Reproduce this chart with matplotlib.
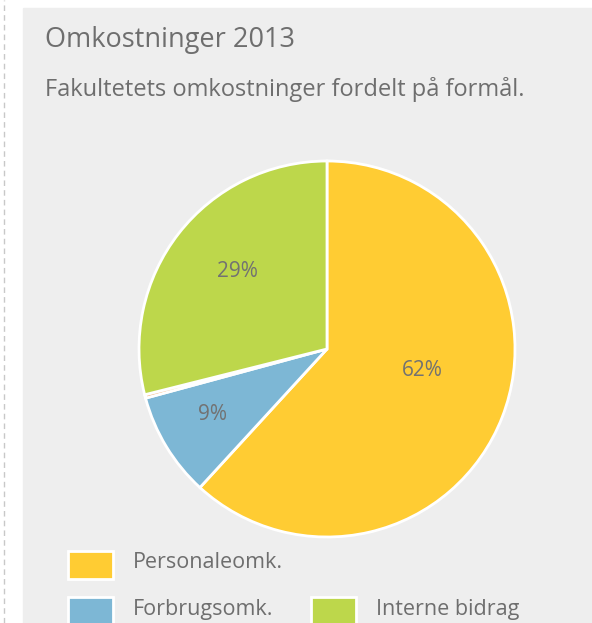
import matplotlib.pyplot as plt
import numpy as np
from matplotlib.patches import Rectangle
from matplotlib.lines import Line2D

plt.rcParams['font.family'] = ['Open Sans', 'DejaVu Sans']

categories = ["Personaleomk.", "Forbrugsomk.", "Andet", "Interne bidrag"]
shares = [62, 9, 0.3, 29]
colors = ["#ffcc33", "#7db7d5", "#f4b27c", "#bdd74b"]
legend_items = [0, 1, 3]
# label placement: distance from centre (radius units) and angle shift (deg)
label_dist = [0.52, 0.70, 0.0, 0.63]
label_shift = [8.6, -1.6, 0.0, -3.0]

W, H = 592, 623
fig = plt.figure(figsize=(W / 100, H / 100), dpi=100)
fig.patch.set_facecolor("white")

# grey panel + dashed left rule
fig.patches.append(Rectangle((23 / W, 0), (W - 23) / W, 1 - 8 / H,
                             transform=fig.transFigure, color="#eeeeee", zorder=-10))
fig.add_artist(Line2D([4 / W, 4 / W], [0, 1], transform=fig.transFigure,
                      color="#c8c8c8", lw=1, ls=(0, (4, 3))))

txt = "#6e6e6e"
fig.text(45 / W, 1 - 40 / H, "Omkostninger 2013", fontsize=19.5, color=txt,
         va="center", ha="left")
fig.text(45 / W, 1 - 89 / H, "Fakultetets omkostninger fordelt på formål.",
         fontsize=17, color=txt, va="center", ha="left")

cx, cy, r = 327, 349, 188
ax = fig.add_axes([(cx - r) / W, (H - cy - r) / H, 2 * r / W, 2 * r / H])
ax.set_zorder(5)
wedges, _ = ax.pie(shares, colors=colors, startangle=90, counterclock=False,
                   wedgeprops=dict(edgecolor="white", linewidth=2))
ax.set_xlim(-1.0, 1.0)
ax.set_ylim(-1.0, 1.0)
ax.axis("off")

for w, v, d, s in zip(wedges, shares, label_dist, label_shift):
    if v < 1:
        continue
    ang = np.deg2rad((w.theta1 + w.theta2) / 2 + s)
    ax.text(d * np.cos(ang), d * np.sin(ang), f"{v:.0f}%", ha="center",
            va="center", fontsize=15, color="#727272")

# legend
pos = [(68, 551), (68, 597), (311, 597)]
for i, (px, py) in zip(legend_items, pos):
    fig.patches.append(Rectangle((px / W, 1 - (py + 28) / H), 45 / W, 28 / H,
                                 transform=fig.transFigure, facecolor=colors[i],
                                 edgecolor="white", lw=2, zorder=2))
    fig.text((px + 65) / W, 1 - (py + 12) / H, categories[i], fontsize=15.5,
             color=txt, va="center", ha="left")

fig.savefig("out.png", dpi=100, facecolor=fig.get_facecolor())
